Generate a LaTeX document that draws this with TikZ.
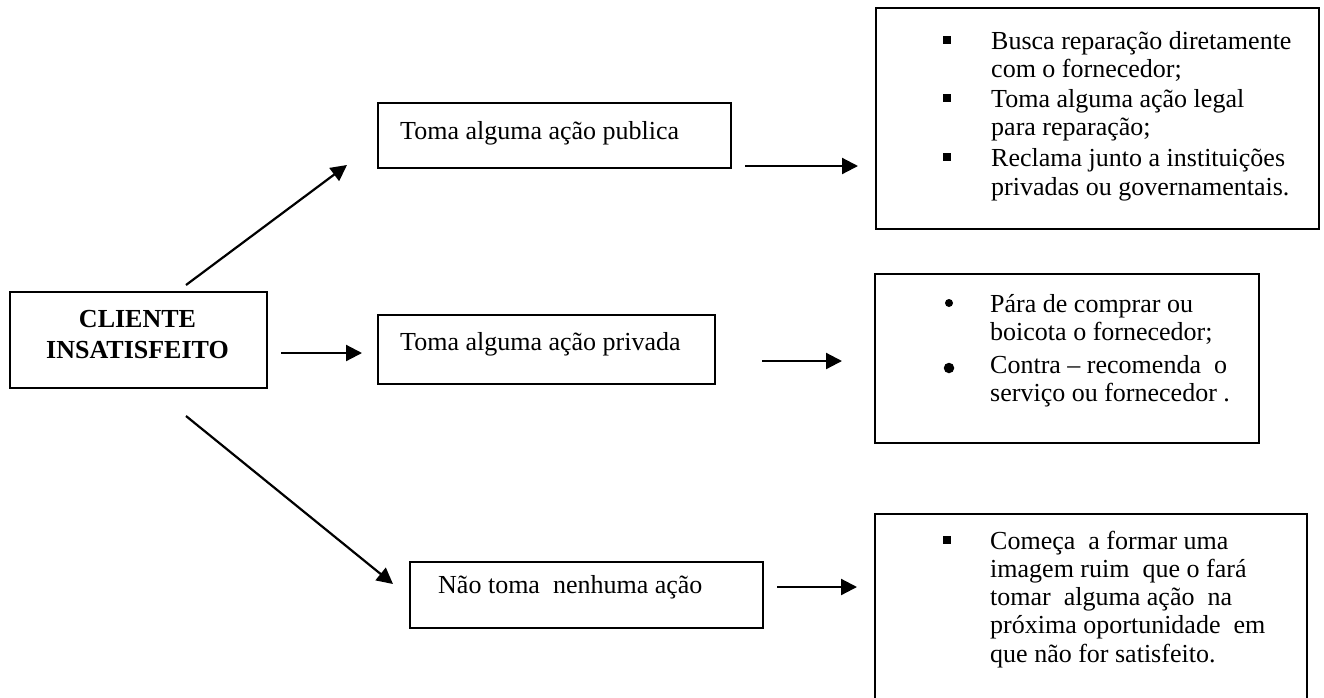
\documentclass[tikz,border=0pt]{standalone}
\usepackage{fontspec}
\setmainfont{Liberation Serif}
\usetikzlibrary{arrows.meta}
\begin{document}
\begin{tikzpicture}[x=1pt,y=-1pt,
  box/.style={draw,line width=2.1pt,rectangle,anchor=north west,inner sep=0pt},
  txt/.style={anchor=base west,inner sep=0pt,font=\fontsize{26}{28}\selectfont},
  btxt/.style={anchor=base,inner sep=0pt,font=\fontsize{26}{28}\selectfont\bfseries},
  conn/.style={line width=2.2pt,-{Triangle[length=16pt,width=16pt]}},
  sqb/.style={fill,rectangle,minimum size=8pt,inner sep=0pt},
  dotb/.style={fill,circle,inner sep=0pt}]
\clip (0,0) rectangle (1324,697);
% boxes
\node[box,minimum width=257pt,minimum height=96pt] (cli) at (9,291) {};
\node[box,minimum width=353pt,minimum height=65pt] (pub) at (377,102) {};
\node[box,minimum width=337pt,minimum height=69pt] (pri) at (377,314) {};
\node[box,minimum width=353pt,minimum height=66pt] (nao) at (409,561) {};
\node[box,minimum width=443pt,minimum height=221pt] (r1) at (875,7) {};
\node[box,minimum width=384pt,minimum height=169pt] (r2) at (874,273) {};
\node[box,minimum width=432pt,minimum height=230pt] (r3) at (874,513) {};
% texts
\node[btxt] (c1) at (137.5,327) {CLIENTE};
\node[btxt] (c2) at (137.5,358) {INSATISFEITO};
\node[txt] (tpub) at (400,139) {Toma alguma ação publica};
\node[txt] (tpri) at (400,350) {Toma alguma ação privada};
\node[txt] (tnao) at (438,593) {Não toma\ \ nenhuma ação};
% right box 1
\node[sqb] (s1) at (947,40) {};
\node[txt] (l11) at (991,49) {Busca reparação diretamente};
\node[txt] (l12) at (991,77) {com o fornecedor;};
\node[sqb] (s2) at (947,98) {};
\node[txt] (l13) at (991,107) {Toma alguma ação legal};
\node[txt] (l14) at (991,135) {para reparação;};
\node[sqb] (s3) at (947,157) {};
\node[txt] (l15) at (991,166) {Reclama junto a instituições};
\node[txt] (l16) at (991,195) {privadas ou governamentais.};
% right box 2
\node[dotb,minimum size=8pt] (d1) at (949,303) {};
\node[txt] (l21) at (990,312) {Pára de comprar ou};
\node[txt] (l22) at (990,340) {boicota o fornecedor;};
\node[dotb,minimum size=10.5pt] (d2) at (949,368) {};
\node[txt] (l23) at (990,373) {Contra -- recomenda\ \ o};
\node[txt] (l24) at (990,401) {serviço ou fornecedor .};
% right box 3
\node[sqb] (s4) at (947,540) {};
\node[txt] (l31) at (990,549) {Começa\ \ a formar uma};
\node[txt] (l32) at (990,577) {imagem ruim\ \ que o fará};
\node[txt] (l33) at (990,605) {tomar\ \ alguma ação\ \ na};
\node[txt] (l34) at (990,633) {próxima oportunidade\ \ em};
\node[txt] (l35) at (990,662) {que não for satisfeito.};
% connector end points
\coordinate (a1s) at (186,285); \coordinate (a1e) at (347,165);
\coordinate (a2s) at (281,353); \coordinate (a2e) at (362,353);
\coordinate (a3s) at (186,416); \coordinate (a3e) at (393,584);
\coordinate (b1s) at (745,166); \coordinate (b1e) at (858,166);
\coordinate (b2s) at (762,361); \coordinate (b2e) at (842,361);
\coordinate (b3s) at (777,587); \coordinate (b3e) at (857,587);
\draw[conn] (a1s) -- (a1e);
\draw[conn] (a2s) -- (a2e);
\draw[conn] (a3s) -- (a3e);
\draw[conn] (b1s) -- (b1e);
\draw[conn] (b2s) -- (b2e);
\draw[conn] (b3s) -- (b3e);
\end{tikzpicture}
\end{document}
